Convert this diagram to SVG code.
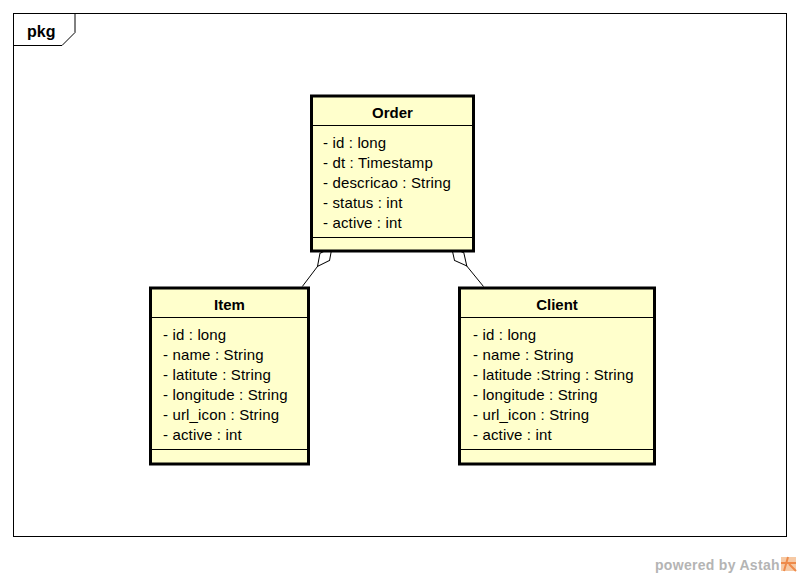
<svg xmlns="http://www.w3.org/2000/svg" width="800" height="577" viewBox="0 0 800 577">
<style>
.frame{fill:none;stroke:#000;stroke-width:1}
.box{fill:#ffffcc;stroke:#000;stroke-width:3}
.sep{stroke:#000;stroke-width:1}
.title{font-family:"Liberation Sans",Arial,sans-serif;font-size:15px;font-weight:bold;fill:#000;text-anchor:middle}
.attr{font-family:"Liberation Sans",Arial,sans-serif;font-size:15px;fill:#000;letter-spacing:0.15px}
.conn{fill:none;stroke:#000;stroke-width:1}
.wm{font-family:"Liberation Sans",Arial,sans-serif;font-size:14px;font-weight:bold;fill:#b4b4b4;letter-spacing:0.3px}
</style>
<defs>
<marker id="agg" markerUnits="userSpaceOnUse" orient="auto" refX="0" refY="0" overflow="visible" markerWidth="30" markerHeight="14">
<path d="M0,0 L-12,-6 L-24,0 L-12,6 Z" fill="#fff" stroke="#000" stroke-width="1"/>
</marker>
</defs>
<rect width="800" height="577" fill="#fff"/>
<g id="pkg">
<rect class="frame" x="13.5" y="13.5" width="773" height="523"/>
<path class="frame" d="M13.5,45.5 H62 L75,32.5 V13.5"/>
<text x="27" y="36.5" style="font-family:'Liberation Sans',Arial,sans-serif;font-size:16px;font-weight:bold">pkg</text>
</g>
<g id="connectors">
<path class="conn" d="M302.3,286.5 L332,247.3" marker-end="url(#agg)"/>
<path class="conn" d="M483.5,286.5 L451.6,247.4" marker-end="url(#agg)"/>
</g>
<g id="Order">
<rect class="box" x="311.5" y="96" width="162" height="155"/>
<line class="sep" x1="311.5" y1="125.5" x2="473.5" y2="125.5"/>
<line class="sep" x1="311.5" y1="237.5" x2="473.5" y2="237.5"/>
<text class="title" x="392.5" y="117.5">Order</text>
<text class="attr" x="323" y="148">- id : long</text>
<text class="attr" x="323" y="168">- dt : Timestamp</text>
<text class="attr" x="323" y="188">- descricao : String</text>
<text class="attr" x="323" y="208">- status : int</text>
<text class="attr" x="323" y="228">- active : int</text>
</g>
<g id="Item">
<rect class="box" x="150.5" y="288" width="158" height="176"/>
<line class="sep" x1="150.5" y1="317.5" x2="308.5" y2="317.5"/>
<line class="sep" x1="150.5" y1="449.5" x2="308.5" y2="449.5"/>
<text class="title" x="229.5" y="309.5">Item</text>
<text class="attr" x="163" y="340">- id : long</text>
<text class="attr" x="163" y="360">- name : String</text>
<text class="attr" x="163" y="380">- latitute : String</text>
<text class="attr" x="163" y="400">- longitude : String</text>
<text class="attr" x="163" y="420">- url_icon : String</text>
<text class="attr" x="163" y="440">- active : int</text>
</g>
<g id="Client">
<rect class="box" x="459.5" y="288" width="195" height="176"/>
<line class="sep" x1="459.5" y1="317.5" x2="654.5" y2="317.5"/>
<line class="sep" x1="459.5" y1="449.5" x2="654.5" y2="449.5"/>
<text class="title" x="557" y="309.5">Client</text>
<text class="attr" x="473" y="340">- id : long</text>
<text class="attr" x="473" y="360">- name : String</text>
<text class="attr" x="473" y="380">- latitude :String : String</text>
<text class="attr" x="473" y="400">- longitude : String</text>
<text class="attr" x="473" y="420">- url_icon : String</text>
<text class="attr" x="473" y="440">- active : int</text>
</g>
<g id="watermark">
<text class="wm" x="655" y="570">powered by Astah</text>
<rect x="781" y="557" width="15" height="14" fill="#f6c9a4"/>
<path d="M781,563 H796 M788,557 L784,571 M789,564 L796,571" stroke="#ee8a4a" stroke-width="2" fill="none"/>
</g>
</svg>
